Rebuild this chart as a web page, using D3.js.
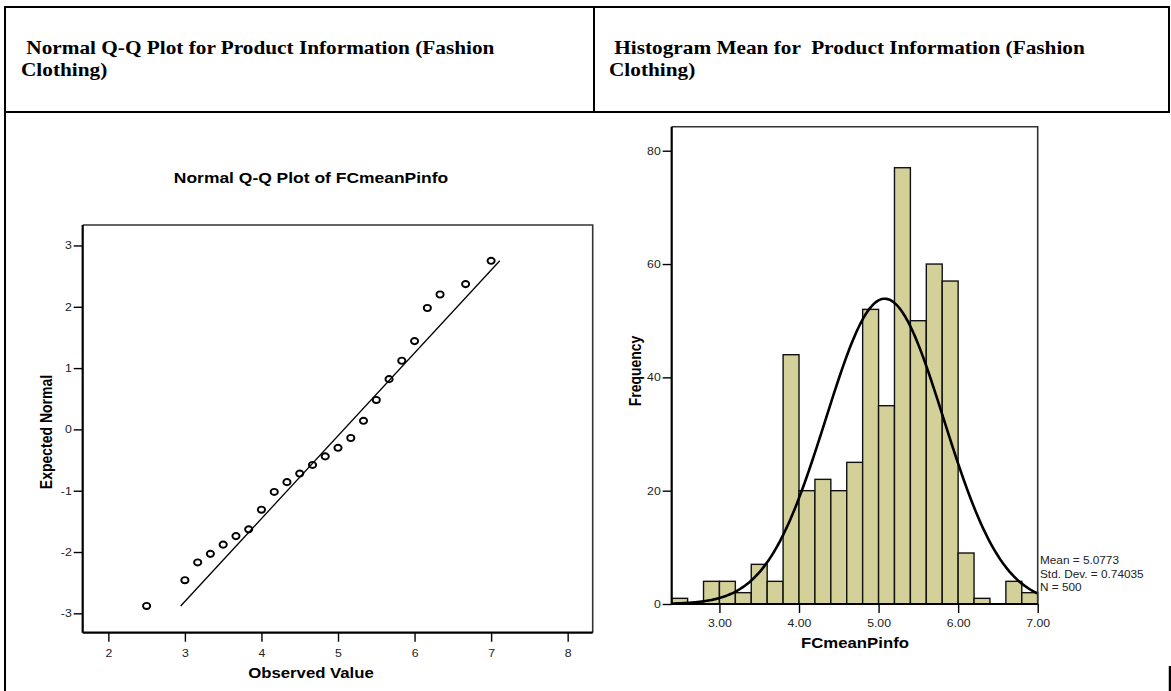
<!DOCTYPE html>
<html>
<head>
<meta charset="utf-8">
<script src="https://cdn.jsdelivr.net/npm/d3@7"></script>
<style>
  html, body { margin: 0; padding: 0; background: #fff; }
  svg { display: block; }
  text { white-space: pre; }
</style>
</head>
<body>
<svg id="fig" width="1171" height="691"></svg>
<script>
// ---- Q-Q plot data: distinct observed values and their expected normal scores
const qqObserved = [2.5, 3.0, 3.167, 3.333, 3.5, 3.667, 3.833, 4.0, 4.167, 4.333, 4.5, 4.667,
                    4.833, 5.0, 5.167, 5.333, 5.5, 5.667, 5.833, 6.0, 6.167, 6.333, 6.667, 7.0];
const qqExpected = [-2.88, -2.46, -2.17, -2.03, -1.88, -1.74, -1.63, -1.31, -1.02, -0.86, -0.72, -0.58,
                    -0.44, -0.30, -0.14, 0.14, 0.48, 0.82, 1.12, 1.44, 1.98, 2.20, 2.37, 2.75];
const qqXTicks = [2, 3, 4, 5, 6, 7, 8];
const qqYTicks = [-3, -2, -1, 0, 1, 2, 3];

// ---- Histogram data: bin lower edges (width 0.2) and frequencies
const binStarts = [2.4, 2.6, 2.8, 3.0, 3.2, 3.4, 3.6, 3.8, 4.0, 4.2, 4.4, 4.6,
                   4.8, 5.0, 5.2, 5.4, 5.6, 5.8, 6.0, 6.2, 6.4, 6.6, 6.8];
const binCounts = [1, 0, 4, 4, 2, 7, 4, 44, 20, 22, 20, 25,
                   52, 35, 77, 50, 60, 57, 9, 1, 0, 4, 2];
const binWidth = 0.2;
const histXTicks = [3, 4, 5, 6, 7];
const histYTicks = [0, 20, 40, 60, 80];

// ---- Summary statistics shown beside the histogram
const fitMean = 5.0773;
const fitSD = 0.74035;
const fitN = 500;
const legendLines = ["Mean = 5.0773", "Std. Dev. = 0.74035", "N = 500"];

// ---- Table header cells
const headerLeft = [" Normal Q-Q Plot for Product Information (Fashion", "Clothing)"];
const headerRight = [" Histogram Mean for  Product Information (Fashion", "Clothing)"];

const SANS = "'Liberation Sans', Arial, Helvetica, sans-serif";
const SERIF = "'Liberation Serif', 'Times New Roman', serif";
const SX = 1.18; // horizontal widening of the lettering

const svg = d3.select("#fig");

// text helper: places a string and widens it horizontally
function label(parent, x, y, str, o = {}) {
  const sx = o.sx || SX;
  return parent.append("text")
    .attr("transform", `translate(${x},${y}) scale(${sx},1)` + (o.rotate ? ` rotate(${o.rotate})` : ""))
    .attr("font-family", o.family || SANS)
    .attr("font-size", o.size || 10)
    .attr("font-weight", o.weight || "normal")
    .attr("fill", o.fill || "#000")
    .attr("text-anchor", o.anchor || "start")
    .text(str);
}

// ================= table frame =================
const frame = svg.append("g").attr("stroke", "#000").attr("stroke-width", 2).attr("fill", "none");
frame.append("line").attr("x1", 5).attr("x2", 1170).attr("y1", 7).attr("y2", 7);
frame.append("line").attr("x1", 5).attr("x2", 1170).attr("y1", 112).attr("y2", 112);
frame.append("line").attr("x1", 5).attr("x2", 5).attr("y1", 6).attr("y2", 691);
frame.append("line").attr("x1", 594).attr("x2", 594).attr("y1", 7).attr("y2", 112);
frame.append("line").attr("x1", 1169).attr("x2", 1169).attr("y1", 6).attr("y2", 113);
frame.append("line").attr("x1", 1170).attr("x2", 1170).attr("y1", 666).attr("y2", 691).attr("stroke-width", 2.5);

const hdr = svg.append("g");
headerLeft.forEach((s, i) => label(hdr, 21, 54 + i * 22, s, { family: SERIF, size: 18.5, weight: "bold", sx: 1.15 }));
headerRight.forEach((s, i) => label(hdr, 609, 54 + i * 22, s, { family: SERIF, size: 18.5, weight: "bold", sx: 1.15 }));

// ================= Normal Q-Q plot =================
const qx = d3.scaleLinear().domain([1.665, 8.327]).range([82.7, 592.7]);
const qy = d3.scaleLinear().domain([-3.316, 3.334]).range([632.7, 225]);
const qq = svg.append("g");

label(qq, 311, 183, "Normal Q-Q Plot of FCmeanPinfo", { size: 14.8, weight: "bold", anchor: "middle" });

// fitted reference line spanning the range of expected scores
const zExt = d3.extent(qqExpected);
const lineData = zExt.map(z => [fitMean + z * fitSD, z]);
qq.append("path")
  .attr("d", d3.line().x(d => qx(d[0])).y(d => qy(d[1]))(lineData))
  .attr("stroke", "#000").attr("stroke-width", 1.3).attr("fill", "none");

qq.selectAll("ellipse.pt")
  .data(qqObserved.map((v, i) => [v, qqExpected[i]]))
  .join("ellipse")
  .attr("class", "pt")
  .attr("cx", d => qx(d[0])).attr("cy", d => qy(d[1]))
  .attr("rx", 3.6).attr("ry", 3.1)
  .attr("fill", "none").attr("stroke", "#000").attr("stroke-width", 1.9);

// box: light top/right, heavy left/bottom axes
qq.append("path")
  .attr("d", `M${qx.range()[0]},${qy.range()[1]}H${qx.range()[1]}V${qy.range()[0]}`)
  .attr("stroke", "#333").attr("stroke-width", 1.6).attr("fill", "none");

const plain = d => String(d);
const qxAxis = qq.append("g").attr("transform", `translate(0,${qy.range()[0]})`)
  .call(d3.axisBottom(qx).tickValues(qqXTicks).tickSize(9).tickFormat(plain));
const qyAxis = qq.append("g").attr("transform", `translate(${qx.range()[0]},0)`)
  .call(d3.axisLeft(qy).tickValues(qqYTicks).tickSize(9).tickFormat(plain));

// ================= Histogram =================
const hx = d3.scaleLinear().domain([2.4, 7.0]).range([671.7, 1037.7]);
const hy = d3.scaleLinear().domain([0, 84.24]).range([604, 126.7]);
const hist = svg.append("g");

hist.selectAll("rect.bar")
  .data(binStarts.map((s, i) => ({ s, c: binCounts[i] })).filter(d => d.c > 0))
  .join("rect")
  .attr("class", "bar")
  .attr("x", d => hx(d.s))
  .attr("width", d => hx(d.s + binWidth) - hx(d.s))
  .attr("y", d => hy(d.c))
  .attr("height", d => hy(0) - hy(d.c))
  .attr("fill", "#d4d09a").attr("stroke", "#111").attr("stroke-width", 1.4);

// normal density scaled to counts per bin
const peak = fitN * binWidth / (fitSD * Math.sqrt(2 * Math.PI));
const curveX = d3.range(2.4, 7.0001, 0.02);
hist.append("path")
  .attr("d", d3.line()
    .x(v => hx(v))
    .y(v => hy(peak * Math.exp(-0.5 * Math.pow((v - fitMean) / fitSD, 2))))
    .curve(d3.curveBasis)(curveX))
  .attr("fill", "none").attr("stroke", "#000").attr("stroke-width", 2.6);

hist.append("path")
  .attr("d", `M${hx.range()[0]},${hy.range()[1]}H${hx.range()[1]}V${hy.range()[0]}`)
  .attr("stroke", "#333").attr("stroke-width", 1.6).attr("fill", "none");

const hxAxis = hist.append("g").attr("transform", `translate(0,${hy.range()[0]})`)
  .call(d3.axisBottom(hx).tickValues(histXTicks).tickSize(9).tickFormat(d => d.toFixed(2)));
const hyAxis = hist.append("g").attr("transform", `translate(${hx.range()[0]},0)`)
  .call(d3.axisLeft(hy).tickValues(histYTicks).tickSize(9).tickFormat(plain));

// ---- shared axis styling
[qxAxis, qyAxis, hxAxis, hyAxis].forEach(a => {
  a.select(".domain").attr("stroke", "#000").attr("stroke-width", 2.2);
  a.selectAll(".tick line").attr("stroke", "#000").attr("stroke-width", 1.4);
  a.selectAll(".tick text")
    .attr("font-family", SANS).attr("font-size", 10.4).attr("fill", "#222");
});
[[qyAxis, qy], [hyAxis, hy]].forEach(([a, s]) => {
  a.select(".domain").attr("d", `M0,${s.range()[0]}V${s.range()[1]}`);
  a.selectAll(".tick text").attr("x", -11 / SX).attr("transform", `scale(${SX},1)`);
});
[[qxAxis, qx, 17], [hxAxis, hx, 15.3]].forEach(([a, s, off]) => {
  a.select(".domain").attr("d", `M${s.range()[0]},0H${s.range()[1]}`);
  a.selectAll(".tick text").attr("y", off).attr("transform", `scale(${SX},1)`);
});

// ---- axis titles
label(qq, 311, 678, "Observed Value", { size: 14.2, weight: "bold", anchor: "middle" });
label(qq, 52, 432, "Expected Normal", { size: 14, weight: "bold", anchor: "middle", rotate: -90 });
label(hist, 855, 648, "FCmeanPinfo", { size: 14.2, weight: "bold", anchor: "middle" });
label(hist, 641, 371, "Frequency", { size: 14, weight: "bold", anchor: "middle", rotate: -90 });

// ---- summary statistics
legendLines.forEach((s, i) => label(hist, 1040, 564 + i * 13.6, s, { size: 10, fill: "#222" }));
</script>
</body>
</html>
